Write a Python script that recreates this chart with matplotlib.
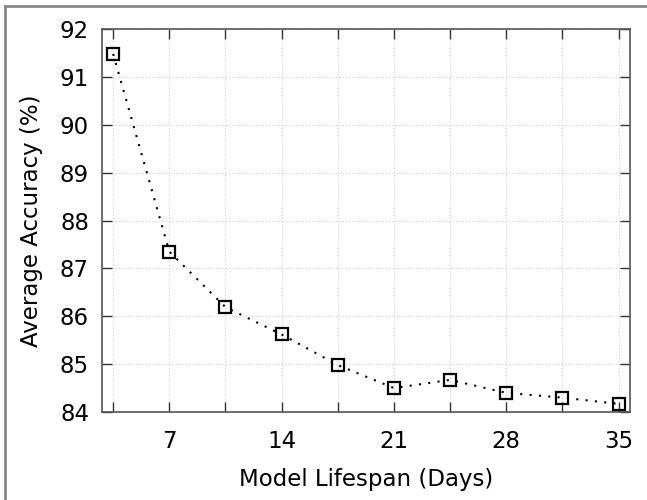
import matplotlib
matplotlib.use('Agg')
import matplotlib.pyplot as plt
from matplotlib.ticker import MultipleLocator, FuncFormatter
from matplotlib.lines import Line2D

lifespan_days = [3.5, 7, 10.5, 14, 17.5, 21, 24.5, 28, 31.5, 35]
avg_accuracy = [91.48, 87.35, 86.19, 85.62, 84.98, 84.50, 84.67, 84.40, 84.30, 84.17]

plt.rcParams['font.family'] = ['DejaVu Sans']

fig = plt.figure(figsize=(6.47, 5.0), dpi=100)
ax = fig.add_axes([0.157, 0.176, 0.817, 0.766])

ax.plot(lifespan_days, avg_accuracy, color='black', linestyle=(0, (1, 3.5)), linewidth=1.5,
        marker='s', markersize=8, markerfacecolor='none', markeredgecolor='black',
        markeredgewidth=1.6, zorder=3)

ax.set_xlim(2.78, 35.72)
ax.set_ylim(84, 92)
ax.xaxis.set_major_locator(MultipleLocator(3.5))
ax.xaxis.set_major_formatter(FuncFormatter(lambda v, p: '%d' % round(v) if abs(v / 7 - round(v / 7)) < 1e-6 else ''))
ax.yaxis.set_major_locator(MultipleLocator(1))

ax.tick_params(direction='in', length=7, width=1, colors='#333333', labelcolor='black',
               labelsize=16.5, top=True, right=True)
ax.tick_params(axis='x', pad=13)
ax.tick_params(axis='y', pad=9)
ax.grid(True, color='#cccccc', linestyle=(0, (1, 2)), linewidth=0.8)
for s in ax.spines.values():
    s.set_color('#555555')
    s.set_linewidth(1.2)

ax.set_xlabel('Model Lifespan (Days)', fontsize=16.5, labelpad=11)
ax.set_ylabel('Average Accuracy (%)', fontsize=16.5, labelpad=12)

# gray outer frame (only top and left visible in the crop)
fig.add_artist(Line2D([5 / 647, 1], [1 - 6 / 500, 1 - 6 / 500], transform=fig.transFigure,
                      color='#888888', linewidth=2))
fig.add_artist(Line2D([5 / 647, 5 / 647], [0, 1 - 6 / 500], transform=fig.transFigure,
                      color='#888888', linewidth=2))

fig.savefig('out.png', dpi=100)
